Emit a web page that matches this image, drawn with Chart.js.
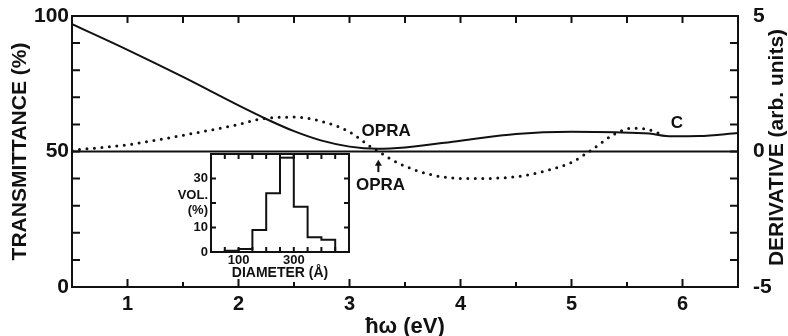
<!DOCTYPE html>
<html>
<head>
<meta charset="utf-8">
<script src="https://cdn.jsdelivr.net/npm/chart.js@4.4.1/dist/chart.umd.min.js"></script>
<style>
  html, body { margin: 0; padding: 0; background: #fff; }
  #wrap { position: relative; width: 788px; height: 336px; }
  #main { position: absolute; left: 0; top: 0; }
  #inset { position: absolute; left: 160px; top: 150px; }
</style>
</head>
<body>
<div id="wrap">
  <canvas id="main" width="788" height="336"></canvas>
  <canvas id="inset" width="200" height="132"></canvas>
</div>
<script>
// photon energy (eV) and transmittance (%) - solid curve
const energyT = [0.5, 1.0, 1.5, 2.0, 2.25, 2.5, 2.75, 3.0, 3.25, 3.5, 4.0, 4.5, 5.0, 5.4, 5.7, 5.9, 6.15, 6.5];
const transmittance = [97, 87.5, 77.5, 67, 62, 57.5, 54, 51.8, 51, 51.5, 54, 56.5, 57.3, 57.1, 56.6, 55.6, 55.7, 56.8];

// derivative (arb. units) - dotted curve
const energyD = [0.5, 1.0, 1.5, 2.0, 2.2, 2.5, 2.8, 3.0, 3.2, 3.3, 3.45, 3.75, 4.05, 4.5, 4.8, 5.0, 5.16, 5.4, 5.55, 5.67, 5.8];
const derivative = [0.05, 0.25, 0.6, 1.0, 1.2, 1.27, 1.05, 0.72, 0.15, -0.1, -0.45, -0.87, -1.0, -0.93, -0.68, -0.4, 0, 0.67, 0.86, 0.83, 0.65];

// derivative zero line
const zeroEnergy = [0.5, 6.5];
const zeroValue = [0, 0];

// inset histogram: bin left edges (Å) and volume (%)
const diameterBins = [50, 100, 150, 200, 250, 300, 350, 400, 450];
const volumePct = [0.5, 1.2, 9, 24, 40, 18.5, 6, 5, 0];
const breakBin = [250, 300];
const breakLevel = 38.5;

// text notes in data units (eV, transmittance %)
const notes = [
  { text: 'OPRA', x: 3.33, y: 57.6 },
  { text: 'OPRA', x: 3.28, y: 37.6 },
  { text: 'C', x: 5.95, y: 60.5 }
];
const arrowAt = { x: 3.26, from: 42.4, to: 47 };

const INK = '#111';
const FONT = "'Liberation Sans', Arial, sans-serif";

const pts = (xs, ys) => xs.map((x, i) => ({ x, y: ys[i] }));
const isInt = v => Math.abs(v - Math.round(v)) < 1e-6;

// drop the label overhang chart.js reserves above/below vertical axes
const fitVertical = width => s => { s.width = width; s.paddingTop = 0; s.paddingBottom = 0; };

/**
 * Frame plus inward tick marks for the main chart
 */
const mainFrame = {
  id: 'mainFrame',
  afterDatasetsDraw(chart) {
    const { ctx, chartArea: a, scales } = chart;
    ctx.save();
    ctx.strokeStyle = INK;
    ctx.lineWidth = 2;
    ctx.strokeRect(a.left, a.top, a.right - a.left, a.bottom - a.top);
    ctx.beginPath();
    scales.x.ticks.forEach(t => {
      const px = scales.x.getPixelForValue(t.value);
      if (px <= a.left + 1 || px >= a.right - 1) return;
      const len = isInt(t.value) ? 8 : 5;
      ctx.moveTo(px, a.bottom); ctx.lineTo(px, a.bottom - len);
      ctx.moveTo(px, a.top); ctx.lineTo(px, a.top + 7);
    });
    scales.yT.ticks.forEach(t => {
      const py = scales.yT.getPixelForValue(t.value);
      if (py <= a.top + 1 || py >= a.bottom - 1) return;
      ctx.moveTo(a.left, py); ctx.lineTo(a.left + 8, py);
    });
    scales.yD.ticks.forEach(t => {
      const py = scales.yD.getPixelForValue(t.value);
      if (py <= a.top + 1 || py >= a.bottom - 1) return;
      ctx.moveTo(a.right, py); ctx.lineTo(a.right - 8, py);
    });
    ctx.stroke();

    // notes and arrow
    ctx.fillStyle = INK;
    ctx.font = 'bold 17px ' + FONT;
    ctx.textAlign = 'center';
    ctx.textBaseline = 'middle';
    notes.forEach(n => {
      ctx.fillText(n.text, scales.x.getPixelForValue(n.x), scales.yT.getPixelForValue(n.y));
    });
    const ax = scales.x.getPixelForValue(arrowAt.x);
    const y0 = scales.yT.getPixelForValue(arrowAt.from);
    const y1 = scales.yT.getPixelForValue(arrowAt.to);
    ctx.beginPath();
    ctx.moveTo(ax, y0); ctx.lineTo(ax, y1 + 4);
    ctx.stroke();
    ctx.beginPath();
    ctx.moveTo(ax, y1); ctx.lineTo(ax - 3.5, y1 + 6); ctx.lineTo(ax + 3.5, y1 + 6);
    ctx.closePath();
    ctx.fill();

    // right axis title, read bottom to top
    ctx.font = 'bold 21px ' + FONT;
    ctx.translate(chart.width - 11, (a.top + a.bottom) / 2 - 4);
    ctx.rotate(-Math.PI / 2);
    ctx.fillText('DERIVATIVE (arb. units)', 0, 0);
    ctx.restore();
  }
};

new Chart(document.getElementById('main'), {
  type: 'line',
  data: {
    datasets: [
      { label: 'Transmittance', data: pts(energyT, transmittance), yAxisID: 'yT',
        borderColor: INK, borderWidth: 2, pointRadius: 0, cubicInterpolationMode: 'monotone' },
      { label: 'Derivative', data: pts(energyD, derivative), yAxisID: 'yD',
        borderColor: INK, borderWidth: 3, borderDash: [0, 7.5], borderCapStyle: 'round',
        pointRadius: 0, cubicInterpolationMode: 'monotone' },
      { label: 'Zero', data: pts(zeroEnergy, zeroValue), yAxisID: 'yD',
        borderColor: INK, borderWidth: 2, pointRadius: 0 }
    ]
  },
  options: {
    responsive: false,
    animation: false,
    layout: { padding: { top: 16 } },
    plugins: { legend: { display: false }, tooltip: { enabled: false } },
    scales: {
      x: {
        type: 'linear', min: 0.5, max: 6.5,
        grid: { display: false, drawTicks: false }, border: { display: false },
        ticks: { stepSize: 0.5, autoSkip: false, maxRotation: 0, padding: 5, color: INK,
          font: { family: FONT, size: 20, weight: 'bold' },
          callback: v => isInt(v) ? Math.round(v) : '' },
        title: { display: true, text: 'ħω (eV)', color: INK, padding: 0,
          font: { family: FONT, size: 22, weight: 'bold', lineHeight: 0.8 } },
        afterFit: s => { s.height = 49; s.paddingLeft = 0; s.paddingRight = 0; }
      },
      yT: {
        position: 'left', min: 0, max: 100,
        grid: { display: false, drawTicks: false }, border: { display: false },
        ticks: { stepSize: 10, autoSkip: false, padding: 3, color: INK,
          font: { family: FONT, size: 21, weight: 'bold' },
          callback: v => v % 50 === 0 ? v : '' },
        title: { display: true, text: 'TRANSMITTANCE (%)', color: INK, padding: { top: 8 },
          font: { family: FONT, size: 21, weight: 'bold' } },
        afterFit: fitVertical(72)
      },
      yD: {
        position: 'right', min: -5, max: 5,
        grid: { display: false, drawTicks: false }, border: { display: false },
        ticks: { stepSize: 1, autoSkip: false, padding: 15, color: INK,
          font: { family: FONT, size: 21, weight: 'bold' },
          callback: v => (v === 0 || Math.abs(v) === 5) ? v : '' },
        afterFit: fitVertical(50)
      }
    }
  },
  plugins: [mainFrame]
});

/**
 * Frame plus inward ticks for the inset
 */
const insetFrame = {
  id: 'insetFrame',
  afterDatasetsDraw(chart) {
    const { ctx, chartArea: a, scales } = chart;
    ctx.save();
    ctx.strokeStyle = INK;
    ctx.lineWidth = 2;
    ctx.strokeRect(a.left, a.top, a.right - a.left, a.bottom - a.top);
    ctx.beginPath();
    scales.x.ticks.forEach(t => {
      const px = scales.x.getPixelForValue(t.value);
      if (px <= a.left + 1 || px >= a.right - 1) return;
      ctx.moveTo(px, a.bottom); ctx.lineTo(px, a.bottom - 5);
      ctx.moveTo(px, a.top); ctx.lineTo(px, a.top + 5);
    });
    scales.y.ticks.forEach(t => {
      const py = scales.y.getPixelForValue(t.value);
      if (py <= a.top + 1 || py >= a.bottom - 1) return;
      ctx.moveTo(a.left, py); ctx.lineTo(a.left + 5, py);
      ctx.moveTo(a.right, py); ctx.lineTo(a.right - 5, py);
    });
    ctx.stroke();
    ctx.restore();
  }
};

const histPoints = [{ x: diameterBins[0], y: 0 }].concat(pts(diameterBins, volumePct));

new Chart(document.getElementById('inset'), {
  type: 'line',
  data: {
    datasets: [
      { label: 'Volume', data: histPoints, stepped: true,
        borderColor: INK, borderWidth: 2, pointRadius: 0 },
      { label: 'Break', data: breakBin.map(x => ({ x, y: breakLevel })),
        borderColor: INK, borderWidth: 2, pointRadius: 0 }
    ]
  },
  options: {
    responsive: false,
    animation: false,
    layout: { padding: { top: 4, right: 11 } },
    plugins: { legend: { display: false }, tooltip: { enabled: false } },
    scales: {
      x: {
        type: 'linear', min: 0, max: 500,
        grid: { display: false, drawTicks: false }, border: { display: false },
        ticks: { stepSize: 50, autoSkip: false, maxRotation: 0, padding: 2, color: INK,
          font: { family: FONT, size: 13, weight: 'bold', lineHeight: 1 },
          callback: v => (v === 100 || v === 300) ? v : '' },
        title: { display: true, text: 'DIAMETER (Å)', color: INK, padding: { bottom: 2 },
          font: { family: FONT, size: 14, weight: 'bold', lineHeight: 1 } },
        afterFit: s => { s.height = 30; s.paddingLeft = 0; s.paddingRight = 0; }
      },
      y: {
        min: 0, max: 40,
        grid: { display: false, drawTicks: false }, border: { display: false },
        ticks: { stepSize: 10, autoSkip: false, padding: 3, color: INK,
          font: { family: FONT, size: 13, weight: 'bold', lineHeight: 1.1 },
          callback: v => v === 20 ? ['VOL.', '(%)'] : (v === 40 ? '' : v) },
        afterFit: fitVertical(51)
      }
    }
  },
  plugins: [insetFrame]
});
</script>
</body>
</html>
